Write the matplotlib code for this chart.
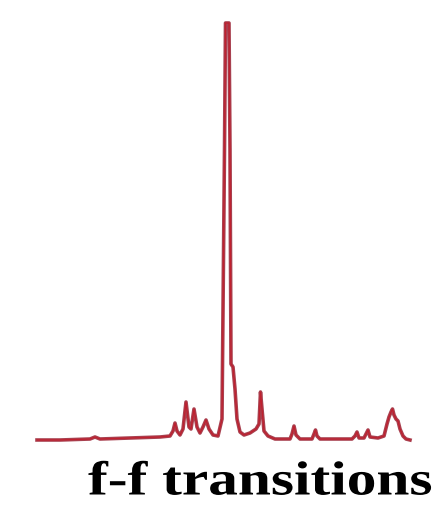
import matplotlib
matplotlib.use("Agg")
import matplotlib.pyplot as plt
from matplotlib.patheffects import AbstractPathEffect
from matplotlib.transforms import Affine2D

# Spectrum trace (position along the spectrum, relative intensity)
position = [37, 60, 90, 95, 100, 130, 160, 170, 173, 175, 177, 180, 183, 186, 189, 191,
            194, 197, 200, 203, 206, 209, 213, 218, 222, 224.5, 225.5, 229, 230, 231,
            233, 235, 237, 240, 244, 250, 256, 259, 260.5, 262, 264, 268, 275, 290, 292,
            294, 296, 300, 312, 314, 315.5, 317, 320, 352, 355, 357, 359, 364, 366, 368,
            370, 378, 384, 387, 389, 391, 392.5, 394, 396, 398, 400, 403, 406, 410]
height = [441, 441, 440, 438, 440, 439, 438, 437, 432, 424, 432, 436, 430, 403, 428, 430,
          410, 428, 434, 428, 421, 430, 436, 437, 420, 150, 24, 24, 150, 365,
          368, 390, 420, 433, 436, 434, 430, 425, 393, 410, 432, 437, 440, 440, 435,
          427, 436, 440, 440, 435, 431, 437, 440, 440, 437, 433, 439, 439, 435, 431,
          438, 439, 437, 425, 418, 413, 410, 416, 420, 422, 430, 437, 440, 441]
intensity = [441 - h for h in height]

label = "f-f transitions"

W, H = 438, 506
fig = plt.figure(figsize=(W / 100, H / 100), dpi=100)
ax = fig.add_axes([0, 0, 1, 1])
ax.set_xlim(0, W)
ax.set_ylim(441 - H, 441)
ax.axis("off")

ax.plot(position, intensity, color="#a8404f", lw=2.6, solid_joinstyle="round")
ax.plot(position, intensity, color="#c0202e", lw=0.9, solid_joinstyle="round")


class HStretch(AbstractPathEffect):
    """Stretch glyphs horizontally about a fixed x (display pixels)."""
    def __init__(self, sx, x0):
        super().__init__()
        self.sx = sx
        self.x0 = x0

    def draw_path(self, renderer, gc, tpath, affine, rgbFace=None):
        t = affine + Affine2D().translate(-self.x0, 0).scale(self.sx, 1).translate(self.x0, 0)
        renderer.draw_path(gc, tpath, t, rgbFace)


x_left, x_right = 88, 432
txt = fig.text(x_left / W, 1 - 495.5 / H, label, ha="left", va="baseline",
               fontsize=34.5, fontweight="bold", family="Liberation Serif", color="black")
fig.canvas.draw()
bb = txt.get_window_extent(renderer=fig.canvas.get_renderer())
sx = (x_right - x_left) / bb.width
txt.set_path_effects([HStretch(sx, bb.x0)])

fig.savefig("out.png", dpi=100)
